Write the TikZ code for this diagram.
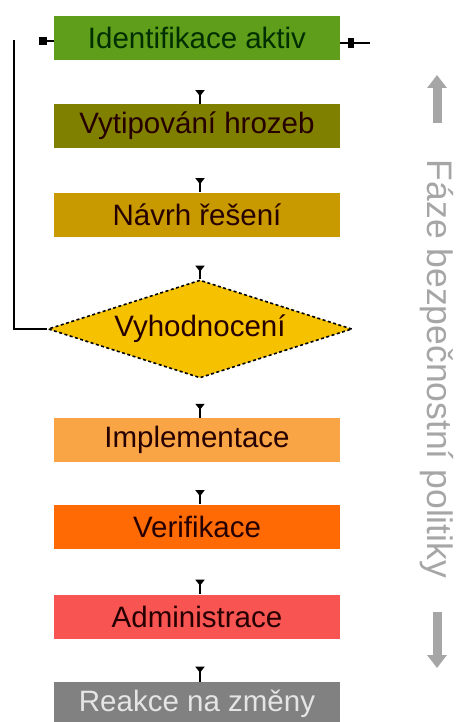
\documentclass[tikz,border=0pt]{standalone}
\usepackage{fontspec}
\setmainfont{Liberation Sans}
\usetikzlibrary{shapes.geometric,arrows.meta}
\definecolor{cIdent}{HTML}{5E9E1A}
\definecolor{cVyt}{HTML}{808000}
\definecolor{cNav}{HTML}{C89A00}
\definecolor{cDia}{HTML}{F6C200}
\definecolor{cImpl}{HTML}{F9A445}
\definecolor{cVer}{HTML}{FF6A05}
\definecolor{cAdm}{HTML}{F85552}
\definecolor{cReak}{HTML}{818181}
\definecolor{cSide}{HTML}{A6A6A6}
\tikzset{
  stepbox/.style={rectangle, minimum width=286pt, minimum height=44pt, inner sep=0pt,
    font=\fontsize{29.5}{33}\selectfont, text=black!85!red},
  conn/.style={line width=1.8pt, black},
  marker/.style={line width=1.6pt, black, {Triangle[reversed,width=9pt,length=6pt]}-},
}
\begin{document}
\begin{tikzpicture}[x=1pt,y=-1pt]
\useasboundingbox (0,0) rectangle (464,722);
\fill[white] (0,0) rectangle (464,722);

\node[stepbox, fill=cIdent, text=black!70!green!60!black] (ident) at (197,38) {Identifikace aktiv};
\node[stepbox, fill=cVyt] (vyt) at (197,126) {Vytipování hrozeb};
\node[stepbox, fill=cNav] (nav) at (197,214.5) {Návrh řešení};
\node[diamond, fill=cDia, draw=black, dash pattern=on 3pt off 2.5pt, line width=1.6pt, minimum width=304pt, minimum height=98pt, aspect=3.1, inner sep=0pt,
  font=\fontsize{29.5}{33}\selectfont, text=black!85!red] (dia) at (200,329) {Vyhodnocení};
\node[stepbox, fill=cImpl] (impl) at (197,440) {Implementace};
\node[stepbox, fill=cVer] (ver) at (197,526.5) {Verifikace};
\node[stepbox, fill=cAdm] (adm) at (197,616.5) {Administrace};
\node[stepbox, fill=cReak, text=white!80!gray] (reak) at (197,704) {Reakce na změny};

% down markers
\draw[marker, shorten <=30pt] ([xshift=3pt]ident.south) -- ([xshift=3pt]vyt.north);
\draw[marker, shorten <=30pt] ([xshift=3pt]vyt.south) -- ([xshift=3pt]nav.north);
\draw[marker, shorten <=29pt] ([xshift=3pt]nav.south) -- ([xshift=3pt]nav.south |- dia.north);
\draw[marker, shorten <=25pt] ([xshift=3pt]nav.south |- dia.south) -- ([xshift=3pt]impl.north);
\draw[marker, shorten <=28pt] ([xshift=3pt]impl.south) -- ([xshift=3pt]ver.north);
\draw[marker, shorten <=31pt] ([xshift=3pt]ver.south) -- ([xshift=3pt]adm.north);
\draw[marker, shorten <=28pt] ([xshift=3pt]adm.south) -- ([xshift=3pt]reak.north);

% loop back on the left
\coordinate (looptop) at (14,40);
\draw[conn] (dia.west) -| (looptop);
\coordinate (lstub) at (43,41);
\draw[conn] (ident.west |- lstub) -- (lstub);
\node[fill=black, minimum size=7.5pt, inner sep=0pt] (lsq) at (lstub) {};

% stub on the right
\coordinate (rend) at (370,43);
\draw[conn] (ident.east |- rend) -- (rend);
\node[fill=black, minimum width=5.5pt, minimum height=10pt, inner sep=0pt] (rsq) at (351,43) {};

% side label and arrows
\node[rotate=-90, text=cSide, font=\fontsize{35.5}{40}\selectfont] (side) at (437,369) {Fáze bezpečnostní politiky};
\coordinate (uptop) at (437,75);
\coordinate (upbot) at (437,123);
\draw[cSide, line width=9pt, -{Triangle[width=19pt,length=13pt]}] (upbot) -- (uptop);
\coordinate (dntop) at (437,612);
\coordinate (dnbot) at (437,668);
\draw[cSide, line width=9pt, -{Triangle[width=19pt,length=13pt]}] (dntop) -- (dnbot);
\end{tikzpicture}
\end{document}
